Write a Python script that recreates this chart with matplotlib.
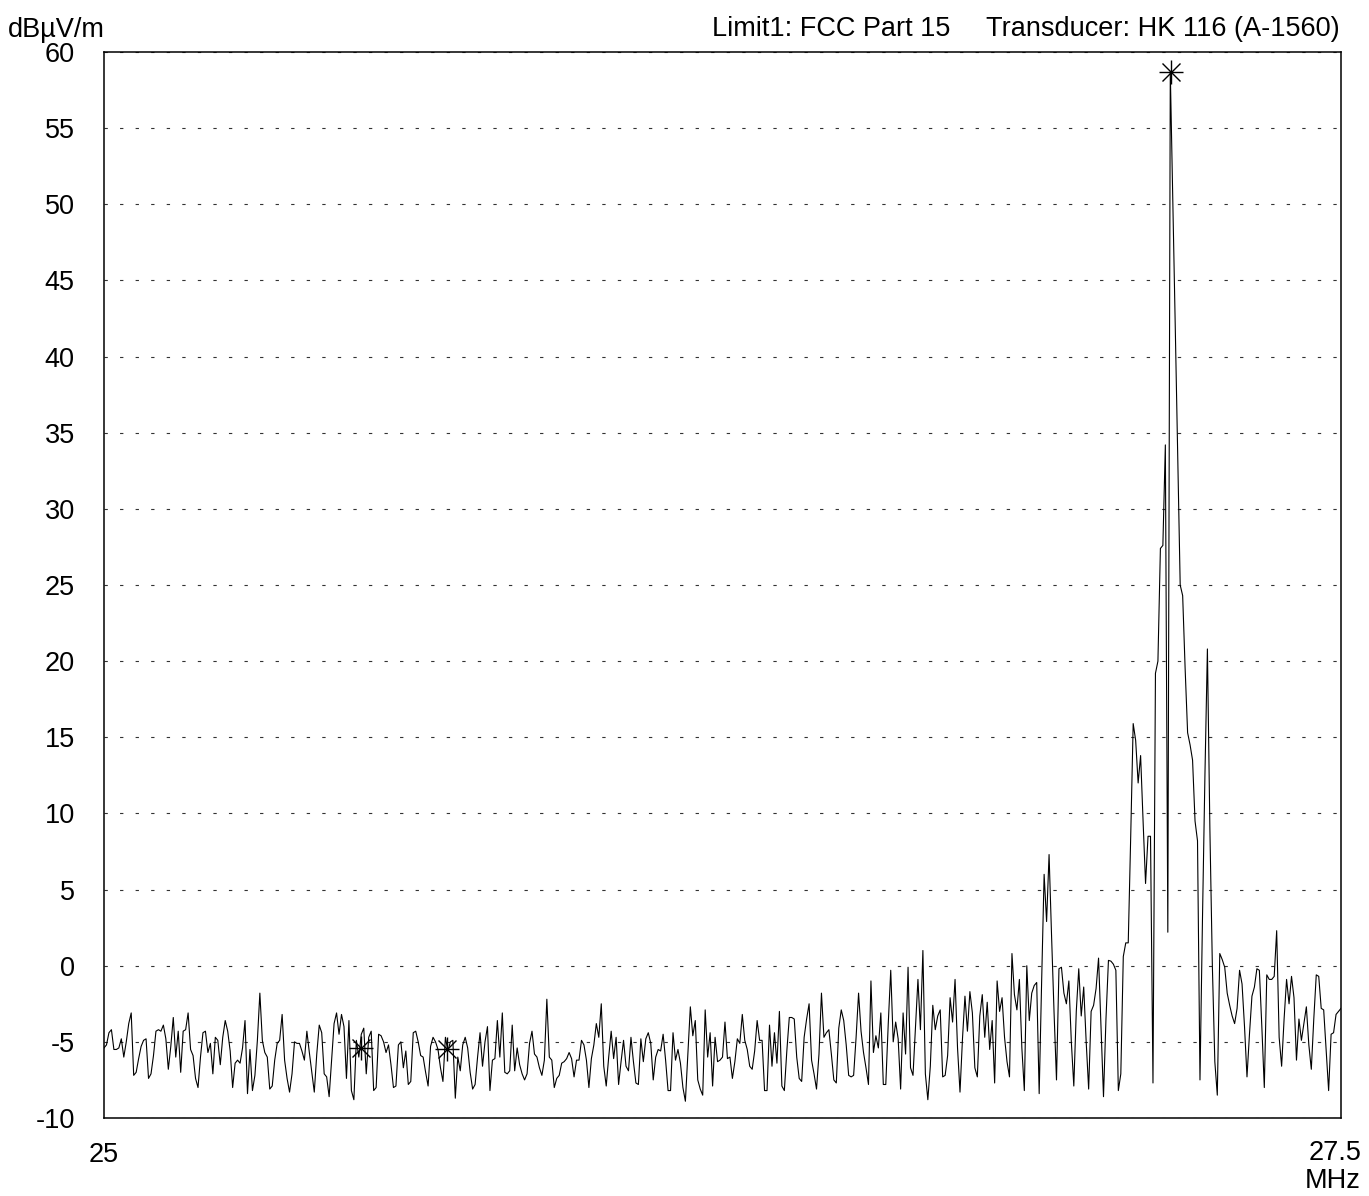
import matplotlib
matplotlib.use("Agg")
import matplotlib.pyplot as plt
import numpy as np

plt.rcParams['font.family'] = ['Liberation Sans', 'DejaVu Sans']

# sweep 25 .. 27.5 MHz, 501 points
f_start, f_stop = 25.0, 27.5

# level in dBuV/m, segment by segment
lvl_a = [-5.4, -5.2, -4.4, -4.2, -5.5, -5.5, -5.4, -4.8, -6.0, -5.0,
         -3.8, -3.1, -7.2, -7.0, -6.1, -5.3, -4.9, -4.8, -7.4, -7.1,
         -5.9, -4.3, -4.2, -4.3, -3.9, -4.8, -6.8, -5.3, -3.4, -6.0,
         -4.3, -7.0, -4.3, -4.2, -3.1, -5.5, -5.9, -7.4, -8.0, -6.0,
         -4.4, -4.3, -5.7, -5.1, -7.1, -4.7, -4.9, -6.5, -4.7, -3.6,
         -4.3, -5.6, -8.0, -6.4, -6.2, -6.4, -5.4, -3.6, -8.4, -5.5,
         -8.2, -7.2, -4.9, -1.8, -4.9, -5.7, -6.0, -8.1, -7.9, -6.2,
         -5.1, -4.9, -3.2, -6.2, -7.4, -8.3, -7.1, -5.0, -5.1, -5.1,
         -5.6, -6.2, -4.3, -5.7, -7.0, -8.3, -5.8, -3.9, -4.4, -7.1,
         -7.3, -8.6, -6.2, -3.8, -3.1, -4.5, -3.2]
lvl_b = [-4.0, -7.4, -3.6, -8.2, -8.8, -4.9, -6.0, -4.5, -4.1, -7.1,
         -4.7, -4.3, -8.2, -8.0, -4.5, -4.6, -5.0, -5.7, -5.2, -6.5,
         -8.0, -7.9, -5.2, -5.0, -6.7, -5.6, -7.8, -7.6, -4.4, -4.3,
         -5.0, -5.9, -6.0, -7.0, -7.9, -5.3, -4.7, -5.0, -5.5, -6.7,
         -7.6, -4.7, -5.6, -5.0, -4.9, -8.7, -6.0, -6.9, -5.2, -4.7,
         -5.4, -7.0, -8.1, -7.8, -6.0, -4.4, -6.6, -5.0, -4.0, -8.2,
         -6.2, -6.1, -3.6, -6.0, -3.1, -7.0, -7.1, -6.9, -3.9, -6.9,
         -5.4, -6.5, -7.1, -7.5, -7.1, -5.1, -4.3, -5.8, -6.0, -6.7,
         -7.2, -6.2, -2.2, -6.0, -6.2, -8.0, -7.4, -7.2, -6.4, -6.3,
         -6.1, -5.7, -6.1, -7.3, -6.2]
lvl_c = [-6.2, -4.9, -5.2, -6.2, -8.0, -6.1, -5.2, -3.8, -4.7, -2.5,
         -6.6, -7.9, -6.0, -4.3, -6.1, -4.7, -7.8, -6.3, -4.9, -6.6,
         -6.9, -4.7, -6.3, -7.7, -7.8, -4.8, -6.3, -4.8, -4.4, -5.1,
         -7.5, -6.0, -5.5, -5.6, -4.5, -6.2, -8.2, -8.2, -4.4, -6.2,
         -5.5, -6.4, -8.0, -8.9, -5.8, -2.7, -4.6, -3.6, -7.5, -8.1,
         -8.5, -2.9, -6.0, -4.4, -7.9, -4.7, -6.3, -6.2, -6.0, -3.7,
         -6.1, -6.0, -7.4, -6.3, -4.8, -5.1, -3.2, -4.9, -5.5, -6.6,
         -6.8, -5.6, -3.6, -4.9, -4.9, -8.2, -8.2, -3.9, -6.6, -4.4,
         -6.4, -3.0, -7.9, -8.2, -5.6, -3.4, -3.4, -3.5, -6.0, -7.4,
         -7.6, -4.7, -3.5, -2.5, -6.2, -7.1, -8.1, -5.8, -1.8, -4.7,
         -4.4]
lvl_d = [-4.2, -5.8, -7.5, -7.7, -4.1, -2.9, -3.6, -5.2, -7.2, -7.3,
         -7.2, -4.7, -1.8, -4.3, -5.7, -6.7, -7.8, -1.0, -5.7, -4.6,
         -5.4, -3.1, -7.8, -7.8, -3.8, -0.3, -5.0, -3.7, -4.8, -8.1,
         -3.1, -5.8, -0.1, -6.7, -7.2, -4.0, -0.9, -4.2, 1.0, -7.1,
         -8.8, -6.6, -2.6, -4.2, -3.3, -2.9, -7.3, -7.2, -5.9, -2.1,
         -3.7, -0.9, -5.4, -8.3, -4.8, -2.0, -4.3, -1.7, -3.1, -6.7,
         -7.3, -3.3, -1.9, -4.7, -2.4, -5.5, -3.6, -7.7, -1.0, -3.0,
         -2.1, -4.7, -6.3, -7.3, 0.8, -1.9, -2.9]
lvl_e = [-0.9, -5.4, -8.2, 0.0, -3.6, -1.8, -1.3, -1.1, -8.4, -1.0,
         6.0, 2.9, 7.3, 2.0, -3.0, -7.5, -0.2, -0.1, -1.8, -2.5,
         -1.0, -5.0, -7.9, -3.0, -0.2, -3.3, -1.4, -5.0, -8.1, -3.0,
         -2.6, -1.5, 0.5, -4.0, -8.6, -3.5, 0.35, 0.3, 0.1, -0.3,
         -8.2, -7.1, 0.6, 1.5, 1.5, 8.5, 15.9, 14.8, 12.0, 13.8,
         9.5, 5.4, 8.5, 8.5, -7.7, 19.2, 20.0, 27.4, 27.6, 34.2,
         2.2, 58.7, 50.5, 42.0, 33.5, 25.0, 24.3, 19.5, 15.3, 14.5,
         13.5, 9.5, 8.2, -7.5, 3.0, 12.5, 20.8, 9.0, 0.0, -6.3,
         -8.5, 0.8, 0.4, -0.1, -1.8, -2.6, -3.3, -3.8, -2.8, -0.3,
         -1.2, -4.0, -7.3, -4.5, -2.0, -1.4, -0.2, -0.3, -4.0, -8.0,
         -0.6, -0.9, -0.9, -0.7, 2.3, -4.7, -6.6, -3.5, -0.9, -2.5,
         -0.7, -2.1, -6.2, -3.5, -4.9, -3.8, -2.7, -5.2, -6.8, -3.5,
         -0.6, -0.7, -2.8, -2.9, -5.5, -8.2, -4.5, -4.4, -3.2, -3.0,
         -2.8]

level = np.array(lvl_a + lvl_b + lvl_c + lvl_d + lvl_e)
freq = np.linspace(f_start, f_stop, len(level))

# markers
mark_freq = [25.519, 25.693, 27.156]
mark_level = [-5.4, -5.5, 58.7]

yticks = list(range(-10, 61, 5))
fs = 19.5

fig = plt.figure(figsize=(13.69, 11.96), dpi=100)
ax = fig.add_axes([104 / 1369, 1 - 1118 / 1196, 1237 / 1369, 1066 / 1196])

ax.plot(freq, level, color='black', lw=0.8, zorder=3)
ax.plot(mark_freq, mark_level, ls='none', marker='+', ms=17, mew=1.0,
        color='black', zorder=4)
ax.plot(mark_freq, mark_level, ls='none', marker='x', ms=13, mew=1.0,
        color='black', zorder=4)

ax.set_xlim(f_start, f_stop)
ax.set_ylim(-10, 60)
ax.set_yticks(yticks)
ax.set_yticklabels([str(t) for t in yticks])
ax.set_xticks([f_start])
ax.set_xticklabels(['25'])
ax.tick_params(axis='both', length=0, labelsize=fs, colors='black')
ax.tick_params(axis='y', pad=21)
ax.tick_params(axis='x', pad=17)
ax.yaxis.grid(True, color='#333333', lw=0.8, dashes=(3, 11))
ax.xaxis.grid(False)
for s in ax.spines.values():
    s.set_linewidth(1.1)
    s.set_color('black')

ax.annotate('27.5\nMHz', xy=(f_stop, 0), xycoords=('data', 'axes fraction'),
            xytext=(20, -22), textcoords='offset pixels', ha='right', va='top',
            fontsize=fs, linespacing=1.1)

fig.text(8 / 1369, 1 - 30 / 1196, 'dBµV/m', fontsize=fs, va='center', ha='left')
fig.text(950 / 1369, 1 - 29 / 1196, 'Limit1: FCC Part 15', fontsize=fs,
         va='center', ha='right')
fig.text(1340 / 1369, 1 - 29 / 1196, 'Transducer: HK 116 (A-1560)', fontsize=fs,
         va='center', ha='right')

fig.savefig('out.png', dpi=100)
